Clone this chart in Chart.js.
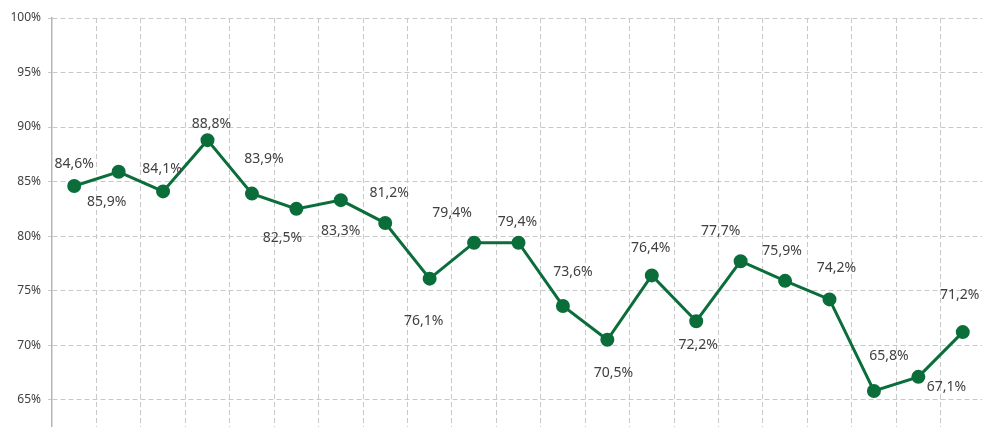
<!DOCTYPE html>
<html>
<head>
<meta charset="utf-8">
<script src="https://cdn.jsdelivr.net/npm/chart.js@4.4.1/dist/chart.umd.min.js"></script>
<style>
  html, body { margin: 0; padding: 0; background: #fff; overflow: hidden; }
  #chartCanvas { position: absolute; left: 0; top: 0; }
</style>
</head>
<body>
<canvas id="chartCanvas" width="985" height="427"></canvas>
<script>
// ------- Data -------
const categories = ["1", "2", "3", "4", "5", "6", "7", "8", "9", "10", "11",
  "12", "13", "14", "15", "16", "17", "18", "19", "20", "21"];
const values = [84.6, 85.9, 84.1, 88.8, 83.9, 82.5, 83.3, 81.2, 76.1, 79.4, 79.4,
  73.6, 70.5, 76.4, 72.2, 77.7, 75.9, 74.2, 65.8, 67.1, 71.2];
const yTicks = [65, 70, 75, 80, 85, 90, 95, 100];

// label placement relative to each point (px), as in the reference
const labelOffsets = [
  [0, -22], [-12, 30], [-1, -22], [4, -16], [12, -35], [-14, 29], [0, 31],
  [4, -30], [-6, 42], [-22, -30], [-1, -21], [10, -34], [6, 33], [-1, -27],
  [2, 24], [-20, -30], [-3, -30], [7, -31], [15, -35], [28, 10], [-3, -37]
];

const lineColor = "#0b6e3a";
const textColor = "#404040";
const gridColor = "#c8c8c8";

const fmt = (v) => v.toFixed(1).replace(".", ",") + "%";

// ------- Plugins -------
const pointLabels = {
  id: "pointLabels",
  afterDatasetsDraw(chart) {
    const ctx = chart.ctx;
    const meta = chart.getDatasetMeta(0);
    ctx.save();
    ctx.font = '14px "Noto Sans"';
    ctx.fillStyle = textColor;
    ctx.textAlign = "center";
    ctx.textBaseline = "middle";
    meta.data.forEach((pt, i) => {
      const [dx, dy] = labelOffsets[i];
      ctx.fillText(fmt(values[i]), pt.x + dx, pt.y + dy);
    });
    ctx.restore();
  },
};

// ------- Chart -------
const ctx = document.getElementById("chartCanvas").getContext("2d");
new Chart(ctx, {
  type: "line",
  data: {
    labels: categories,
    datasets: [{
      data: values,
      borderColor: lineColor,
      backgroundColor: lineColor,
      borderWidth: 3,
      pointRadius: 5.5,
      pointHoverRadius: 5.5,
      tension: 0,
      clip: false,
    }],
  },
  options: {
    responsive: false,
    animation: false,
    layout: { autoPadding: false, padding: { top: 18, left: 0, right: 0, bottom: 0 } },
    plugins: {
      legend: { display: false },
      tooltip: { enabled: false },
    },
    scales: {
      x: {
        offset: true,
        grid: {
          offset: true,
          color: gridColor,
          drawTicks: false,
          tickBorderDash: [5, 3],
        },
        border: { display: false, dash: [5, 3] },
        ticks: { display: false },
        afterFit: (scale) => {
          scale.height = 0;
          scale.paddingLeft = 0;
          scale.paddingRight = 0;
        },
      },
      y: {
        min: 62.5,
        max: 100,
        afterBuildTicks: (scale) => {
          scale.ticks = yTicks.map((v) => ({ value: v }));
        },
        afterFit: (scale) => {
          scale.width = 52;
          scale.paddingTop = 0;
          scale.paddingBottom = 0;
        },
        grid: {
          color: gridColor,
          tickLength: 4,
          tickBorderDash: [5, 3],
        },
        border: { display: true, color: "#b5b5b5", width: 1.5, dash: [5, 3] },
        ticks: {
          padding: 7,
          color: textColor,
          font: { family: "Noto Sans", size: 12 },
          callback: (v) => v + "%",
        },
      },
    },
  },
  plugins: [pointLabels],
});
</script>
</body>
</html>
